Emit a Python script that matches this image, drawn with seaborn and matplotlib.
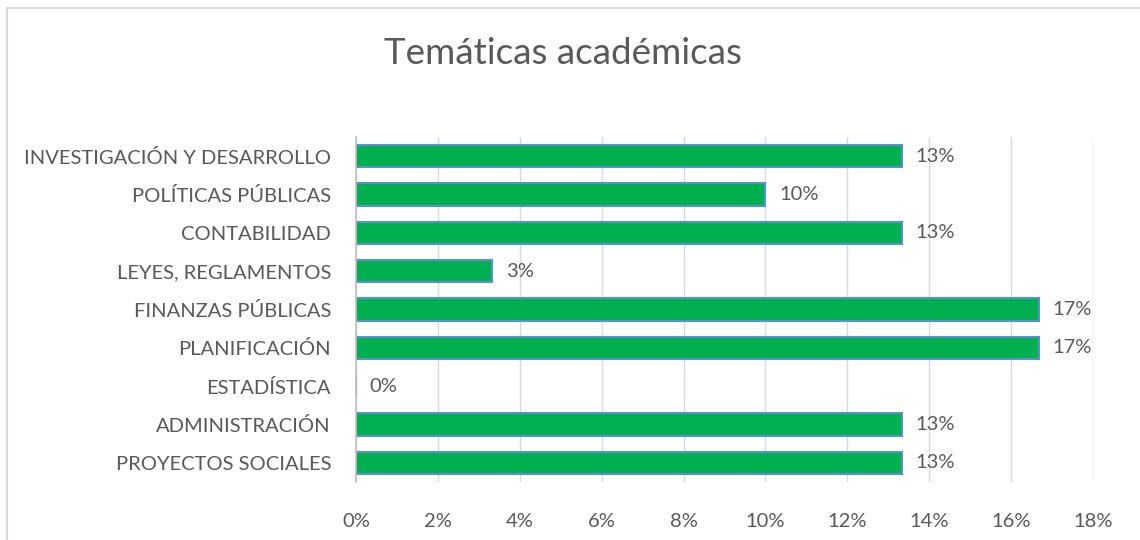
import pandas as pd
import matplotlib.pyplot as plt
import seaborn as sns
from matplotlib.patches import Rectangle

# data, top to bottom as shown
categorias = ['INVESTIGACIÓN Y DESARROLLO', 'POLÍTICAS PÚBLICAS', 'CONTABILIDAD',
              'LEYES, REGLAMENTOS', 'FINANZAS PÚBLICAS', 'PLANIFICACIÓN',
              'ESTADÍSTICA', 'ADMINISTRACIÓN', 'PROYECTOS SOCIALES']
porcentajes = [13.33, 10.0, 13.33, 3.33, 16.67, 16.67, 0.0, 13.33, 13.33]
etiquetas = ['13%', '10%', '13%', '3%', '17%', '17%', '0%', '13%', '13%']
ticks_x = [0, 2, 4, 6, 8, 10, 12, 14, 16, 18]

df = pd.DataFrame({'tema': categorias, 'pct': porcentajes})

sns.set_style("white")
plt.rcParams['font.family'] = ['Lato', 'DejaVu Sans']
gris = '#595959'

fig = plt.figure(figsize=(11.4, 5.4), dpi=100)
ax = fig.add_axes([0.3123, 0.1074, 0.6465, 0.6389])

sns.barplot(data=df, y='tema', x='pct', orient='h', color='#00B050',
            saturation=1, width=0.58, edgecolor='#5B8FD0', linewidth=1.5, ax=ax)

for i, (v, t) in enumerate(zip(porcentajes, etiquetas)):
    ax.text(v + 0.33, i, t, va='center', ha='left', fontsize=14.5, color=gris)

ax.set_xlim(0, 18)
ax.set_xticks(ticks_x)
ax.set_xticklabels([f'{t}%' for t in ticks_x])
ax.set_xlabel('')
ax.set_ylabel('')
ax.grid(axis='x', color='#D9D9D9', linewidth=1)
ax.set_axisbelow(True)
for s in ['top', 'right', 'bottom']:
    ax.spines[s].set_visible(False)
ax.spines['left'].set_color('#BFBFBF')
ax.spines['left'].set_linewidth(1.2)
ax.tick_params(axis='y', length=0, pad=18, labelsize=14.5, labelcolor=gris)
ax.tick_params(axis='x', length=0, pad=22, labelsize=14.5, labelcolor=gris)

fig.text(0.494, 1 - 54 / 540, 'Temáticas académicas', ha='center', va='center',
         fontsize=26.5, color=gris)

# chart frame
fig.patches.append(Rectangle((7 / 1140, -0.05), 1.1, 1 - 8 / 540 + 0.05,
                             transform=fig.transFigure, fill=False,
                             edgecolor='#D9D9D9', linewidth=1.5))

fig.savefig('out.png', dpi=100, facecolor='white')
